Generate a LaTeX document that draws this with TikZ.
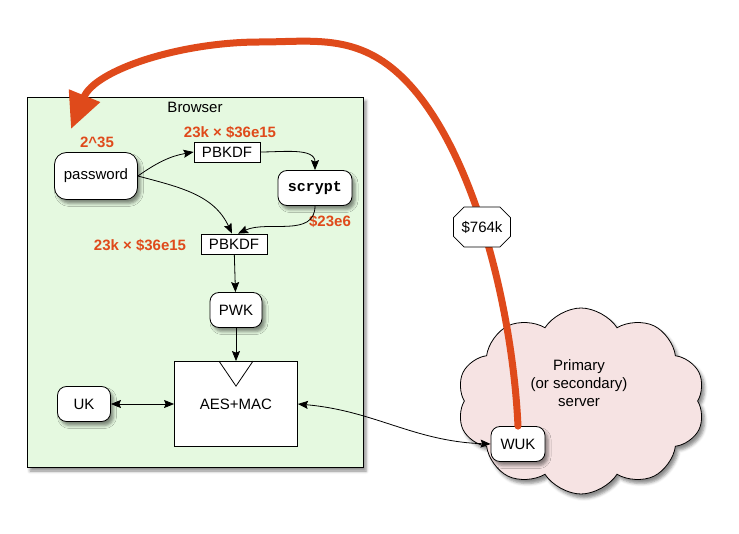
\documentclass[tikz,border=0pt]{standalone}
\usepackage{fontspec}
\setmainfont{Liberation Sans}
\newfontfamily\codefont{Liberation Mono}
\usetikzlibrary{arrows.meta, shapes.symbols, shapes.misc, shadows.blur}

\definecolor{leakorange}{HTML}{DF4A1B}
\definecolor{browsergreen}{HTML}{E5F9E0}
\definecolor{serverpink}{HTML}{F6E3E3}

\tikzset{
  softshadow/.style={blur shadow={shadow xshift=3pt, shadow yshift=-4pt,
      shadow blur radius=3pt, shadow opacity=45}},
  keybox/.style={draw, fill=white, line width=0.8pt, rounded corners=9pt,
      minimum height=35pt, softshadow},
  kdfbox/.style={draw, fill=white, line width=0.8pt, minimum width=66pt,
      minimum height=20pt, inner sep=0pt},
  cost/.style={text=leakorange, font=\fontsize{15}{18}\selectfont\bfseries},
  conn/.style={-{Stealth[length=10pt, width=8pt, inset=1.5pt]}, line width=0.8pt},
  biconn/.style={{Stealth[length=10pt, width=8pt, inset=1.5pt]}-{Stealth[length=10pt, width=8pt, inset=1.5pt]}, line width=0.8pt},
  leak/.style={draw=leakorange, line width=7pt, line cap=round,
      -{Triangle[length=36pt, width=32pt]}},
}

\begin{document}
\begin{tikzpicture}[x=1pt, y=-1pt, font=\fontsize{15}{18}\selectfont]
    \useasboundingbox (0,0) rectangle (739,534);

    % Browser panel and server cloud
    \node[draw, fill=browsergreen, line width=0.8pt, minimum width=336pt,
        minimum height=370pt, softshadow] (browser) at (195,282) {};
    \node (browserlabel) at (195,107) {Browser};
    \node[cloud, cloud puffs=10, cloud puff arc=115, draw, fill=serverpink,
        line width=0.8pt, minimum width=248pt, minimum height=186pt,
        softshadow] (server) at (581,401) {};
    \node[align=center] (serverlabel) at (579,383) {Primary\\(or secondary)\\server};

    % Keys and key derivation
    \node[keybox, minimum width=83pt, minimum height=47pt, rounded corners=12pt] (pw) at (96,176) {password};
    \node[kdfbox] (pb1) at (227,152) {PBKDF};
    \node[keybox, minimum width=74pt] (scr) at (315,188) {\codefont\bfseries scrypt};
    \node[kdfbox] (pb2) at (234,244) {PBKDF};
    \node[keybox, minimum width=52pt] (pwk) at (236,310) {PWK};
    \node[draw, fill=white, line width=0.8pt, minimum width=123pt,
        minimum height=85pt] (aes) at (236,404) {AES+MAC};
    \draw[line width=0.8pt] ([xshift=-17pt]aes.north) -- ([yshift=-25pt]aes.north)
        -- ([xshift=17pt]aes.north);
    \node[keybox, minimum width=53pt] (uk) at (84,404) {UK};
    \node[keybox, minimum width=54pt] (wuk) at (518,444) {WUK};

    % Attack costs
    \node[cost] (pwcost) at (97,142) {2\textasciicircum 35};
    \node[cost] (pb1cost) at (230,132) {23k × \$36e15};
    \node[cost] (scrcost) at (330,221) {\$23e6};
    \node[cost] (pb2cost) at (140,245) {23k × \$36e15};

    % Connectors
    \draw[conn] (pw.east) to[out=35, in=190] (pb1.west);
    \draw[conn] (pb1.east) to[out=0, in=90] (scr.north);
    \draw[conn] (pw.east) to[out=-15, in=115] ([xshift=-2pt]pb2.north);
    \draw[conn] (scr.south) to[out=-90, in=25] ([xshift=4pt]pb2.north);
    \draw[conn] (pb2) -- (pwk);
    \draw[conn] (pwk) -- (aes);
    \draw[biconn] (uk) -- (aes);
    \draw[biconn] (aes.east) to[out=-5, in=178] (wuk.west);

    % Stolen WUK back to the browser
    \coordinate (backtip) at (71,129);
    \draw[leak] (wuk.north) .. controls (512,300) and (470,140) .. (400,75)
        .. controls (355,33) and (310,42) .. (260,42)
        .. controls (180,42) and (95,70) .. (backtip);
    \node[draw, fill=white, line width=0.8pt, chamfered rectangle,
        chamfered rectangle xsep=11pt, minimum width=57pt, minimum height=40pt,
        inner sep=1pt] (fee) at (482,227) {\$764k};
\end{tikzpicture}
\end{document}
